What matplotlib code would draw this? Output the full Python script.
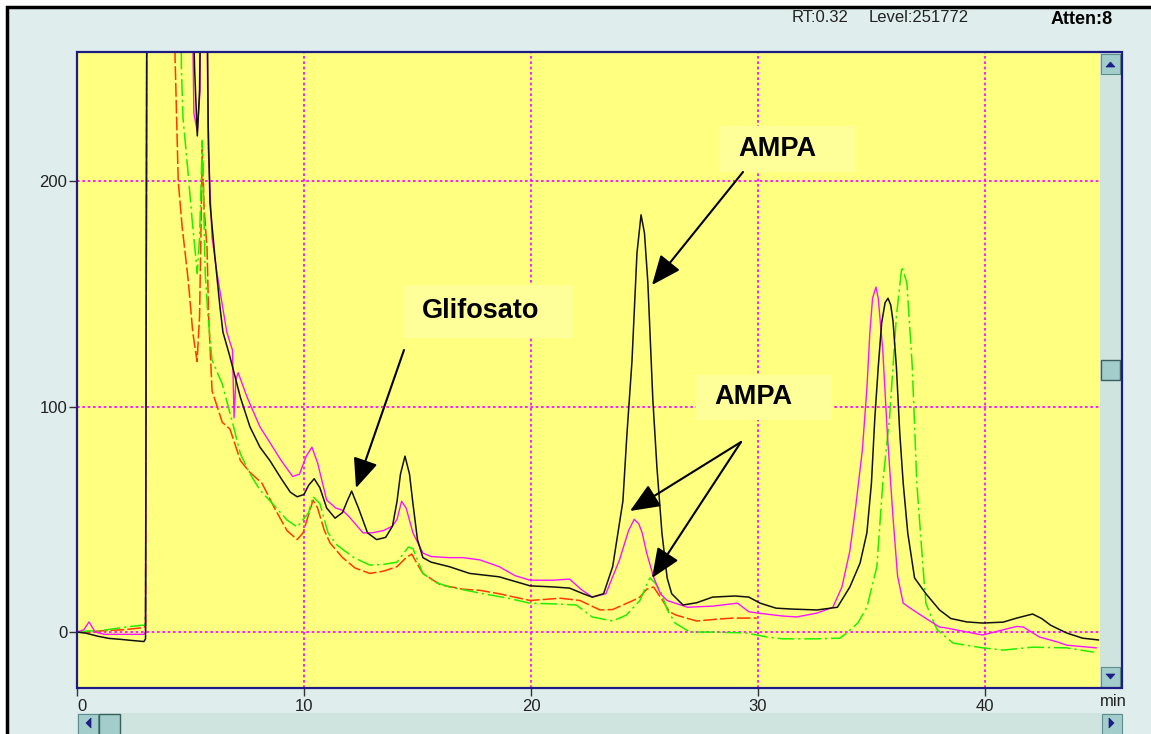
"""Chromatogram screenshot (glyphosate / AMPA) redrawn with matplotlib."""
import matplotlib
matplotlib.use("Agg")
import matplotlib.pyplot as plt
from matplotlib.patches import Rectangle, Polygon, FancyArrowPatch

plt.rcParams["font.family"] = ["Liberation Sans", "DejaVu Sans"]

# ---- data (time in min, response) ----
OFF = 300  # off-scale, clipped at the top of the window

black_t = [0, 0.4, 0.9, 1.4, 2.0, 2.5, 2.95, 3.02, 3.08, 5.05, 5.18, 5.3, 5.4, 5.46,
           5.72, 5.78, 5.86, 6.08, 6.3, 6.43, 6.74, 7.2, 7.62, 8.06, 8.5, 9.0, 9.4,
           9.7, 10.0, 10.2, 10.45, 10.7, 11.0, 11.37, 11.7, 11.9, 12.1, 12.4, 12.8,
           13.2, 13.6, 13.9, 14.1, 14.25, 14.45, 14.65, 14.8, 15.0, 15.24, 15.6, 16.4,
           17.3, 18.6, 19.96, 21.0, 21.7, 22.3, 22.7, 23.2, 23.6, 24.05, 24.23, 24.45,
           24.67, 24.85, 25.0, 25.15, 25.37, 25.55, 25.77, 26.0, 26.2, 26.7, 27.3,
           28.0, 29.0, 29.6, 30.1, 30.8, 31.5, 32.6, 33.5, 34.05, 34.5, 34.8, 35.0,
           35.15, 35.3, 35.45, 35.6, 35.73, 35.85, 35.95, 36.1, 36.25, 36.4, 36.6,
           36.9, 37.4, 38.0, 38.5, 39.2, 39.9, 40.8, 41.4, 42.1, 42.5, 42.9, 43.6,
           44.3, 45.0]
black_v = [0, -0.5, -1.8, -2.8, -3.3, -3.8, -4.2, -3, OFF, OFF, 250, 220, 240, OFF,
           OFF, 225, 190, 166, 144, 133, 122, 104, 91, 82, 76, 68, 62,
           60, 61, 65, 68, 64, 55, 50.5, 53, 58, 62.5, 55, 44,
           41, 42, 47, 58, 70, 78, 70, 57, 41, 33, 31, 29,
           26, 24.5, 20.5, 20, 19.5, 17, 15.5, 17, 29, 58, 88, 120,
           168, 185, 177, 155, 103, 73, 44, 24, 17, 12, 13,
           15.5, 16, 15.5, 12.8, 10.6, 10.2, 9.8, 11, 20, 30.6, 44, 66,
           95, 117.5, 137, 146, 148, 145, 138, 117.5, 88, 66, 44,
           24, 17, 9.8, 6, 4.5, 4, 4.4, 6.2, 8, 6, 3, -0.4,
           -2.7, -3.5]

magenta_t = [0, 0.3, 0.53, 0.8, 1.2, 2.0, 2.95, 3.02, 3.08, 5.05, 5.15, 5.3, 5.42,
             5.46, 5.7, 5.78, 5.95, 6.17, 6.6, 6.85, 6.92, 7.0, 7.1, 7.5, 8.06, 8.5,
             9.0, 9.5, 9.8, 10.1, 10.35, 10.6, 11.0, 11.4, 11.7, 12.0, 12.6, 13.0,
             13.5, 13.9, 14.1, 14.3, 14.5, 14.8, 15.24, 15.6, 16.4, 17.0, 17.75, 18.6,
             19.3, 19.96, 21.0, 21.7, 22.2, 22.7, 23.3, 23.9, 24.3, 24.55, 24.75,
             24.9, 25.1, 25.4, 25.7, 26.0, 26.9, 28.0, 29.1, 29.6, 30.0, 31.1, 31.7,
             32.6, 33.3, 33.7, 34.05, 34.3, 34.6, 34.8, 34.93, 35.05, 35.2, 35.3,
             35.5, 35.7, 35.95, 36.15, 36.4, 36.8, 37.3, 38.0, 38.2, 39.9, 40.8,
             41.4, 41.7, 42.4, 43.2, 43.6, 44.9]
magenta_v = [0, 1, 4.5, 0, -1, -1, -1, 0, OFF, OFF, 230, 222, 240,
             OFF, OFF, 215, 175, 159, 133, 125, 95, 112, 115, 104, 91, 84,
             76, 69, 70, 78, 82, 75, 58.5, 55, 54, 51, 44, 44,
             45, 47, 50, 58, 55, 44, 35, 33.5, 33, 33, 32, 29,
             25, 23, 23, 23.5, 19, 15.5, 17, 32, 45, 50, 48,
             44, 35, 24.4, 17, 14, 11, 11.5, 12.8, 9, 8.4, 7.1, 6.7,
             8.4, 11, 20, 36, 55, 80.7, 108, 132.6, 148, 153, 148,
             125, 88, 51, 25, 12.8, 10, 6.7, 2.2, 2, -1.3, 1,
             2.5, 2.2, -2.2, -4.4, -5.8, -7]

red_t = [0, 0.5, 1.0, 1.5, 2.0, 2.5, 2.95, 3.02, 3.08, 4.3, 4.32, 4.46, 4.63, 4.9,
         5.1, 5.29, 5.4, 5.52, 5.6, 5.73, 5.8, 5.95, 6.4, 6.74, 7.2, 7.6, 8.15, 8.7,
         9.25, 9.7, 9.96, 10.2, 10.4, 10.6, 10.9, 11.15, 11.7, 12.25, 12.9, 13.5,
         14.1, 14.5, 14.75, 15.0, 15.24, 16.0, 17.0, 17.75, 18.6, 19.96, 21.3,
         22.16, 23.04, 23.6, 24.05, 24.5, 24.8, 25.1, 25.4, 25.8, 26.1, 26.4, 27.3,
         28.3, 28.9, 29.95]
red_v = [0, 0, 0.5, 0.8, 1, 1.5, 2, 3, OFF, OFF, 255, 200, 180, 156,
         133, 120, 140, 214, 188, 170, 140, 107, 93, 90, 76, 71, 66, 55,
         45, 41, 44, 52, 58.5, 55, 45, 39.5, 33, 28.4, 26, 27,
         29, 33, 34.6, 30, 26, 21, 19, 18.5, 17, 14, 15,
         14, 9.8, 10, 12, 14, 15.5, 19, 20, 14, 9, 7.5, 4.9,
         5.8, 6.2, 6.2]

green_t = [0, 0.5, 1.0, 1.3, 2.0, 2.8, 2.98, 3.02, 3.08, 4.58, 4.6, 4.67, 4.9, 5.07,
           5.3, 5.4, 5.52, 5.65, 5.77, 5.95, 6.4, 6.9, 7.2, 7.6, 8.06, 8.7, 9.25,
           9.7, 10.2, 10.4, 10.7, 11.06, 11.45, 12.2, 12.9, 13.5, 14.1, 14.6, 14.8,
           15.24, 15.8, 16.4, 17.9, 19.0, 19.96, 21.0, 22.0, 22.7, 23.6, 24.2, 24.8,
           25.1, 25.24, 25.45, 25.7, 26.0, 26.35, 27.0, 28.0, 29.5, 30.4, 31.1, 32.6,
           33.6, 33.8, 34.4, 34.8, 35.24, 35.5, 35.8, 36.1, 36.34, 36.56, 36.8, 37.0,
           37.27, 37.4, 37.7, 37.9, 38.6, 39.9, 40.8, 42.1, 43.6, 44.8]
green_v = [0, 0.5, 0.5, 1, 2, 3, 3, 10, OFF, OFF, 250, 228, 203, 183,
           159, 175, 218, 159, 140, 120.6, 110, 91, 79, 70.5, 63, 56, 49.7,
           46.6, 52.8, 60, 57, 44, 38.6, 33, 29.7, 30, 31, 37.7, 37,
           26, 22, 20, 17, 15, 12.8, 12.5, 12, 6.7, 4.9, 7.5, 14,
           21, 24, 22, 18.6, 10, 4, 0, 0, -0.4, -2.2, -3, -3,
           -2.7, -1.3, 4, 11, 29, 66, 95.3, 140, 162, 155, 117.5, 66,
           29, 12.8, 5.3, 1, -4.9, -7, -8, -6.7, -7, -8.9]

x_ticks = [0, 10, 20, 30, 40]
y_ticks = [0, 100, 200]

# ---- layout (pixels of the 1151x734 screenshot, origin top-left) ----
W, H = 1151, 734
PLOT_L, PLOT_R, PLOT_T, PLOT_B = 77, 1100, 52, 688
FRAME_R = 1122

BG = "#dfeded"
TRACK = "#cfe3df"
BTN = "#a3cdca"
NAVY = "#1c1c84"


def fx(x):
    return x / W


def fy(y):
    return 1 - y / H


def rect(fig, x0, y0, x1, y1, **kw):
    r = Rectangle((fx(x0), fy(y1)), fx(x1) - fx(x0), fy(y0) - fy(y1),
                  transform=fig.transFigure, **kw)
    fig.add_artist(r)
    return r


def button(fig, x0, y0, x1, y1, tri):
    rect(fig, x0, y0, x1, y1, facecolor=BTN, edgecolor="#5f8f8c", lw=0.8, zorder=5)
    fig.add_artist(Polygon([(fx(a), fy(b)) for a, b in tri], closed=True,
                           transform=fig.transFigure, facecolor=NAVY,
                           edgecolor=NAVY, lw=0.5, zorder=6))


fig = plt.figure(figsize=(W / 100, H / 100), dpi=100, facecolor="white")
rect(fig, 7, 7, W + 10, H + 10, facecolor=BG, edgecolor="black", lw=2.5, zorder=-10)

ax = fig.add_axes([fx(PLOT_L), fy(PLOT_B), fx(PLOT_R) - fx(PLOT_L), fy(PLOT_T) - fy(PLOT_B)])
ax.set_facecolor("#ffff80")
ax.set_xlim(0, 45.07)
ax.set_ylim(-24.8, 257.2)

for t in x_ticks[1:]:
    ax.axvline(t, color="#ff00ff", lw=1.2, ls=(0, (1.6, 1.6)), zorder=1)
for v in y_ticks:
    ax.axhline(v, color="#ff00ff", lw=1.2, ls=(0, (1.6, 1.6)), zorder=1)

ax.plot(red_t, red_v, color="#ff3a00", lw=1.1, dashes=(9, 2), zorder=2)
ax.plot(green_t, green_v, color="#22ee00", lw=1.1, dashes=(11, 2.5, 1.5, 2.5), zorder=2)
ax.plot(magenta_t, magenta_v, color="#ff10ff", lw=1.0, zorder=3)
ax.plot(black_t, black_v, color="#111111", lw=1.1, zorder=4)

ax.set_xticks(x_ticks)
ax.set_xticklabels([str(t) for t in x_ticks])
ax.set_yticks(y_ticks)
ax.set_yticklabels([str(v) for v in y_ticks])
ax.tick_params(axis="both", length=6, width=1, color="#333333", labelsize=12,
               labelcolor="#222222")
ax.tick_params(axis="y", pad=1)
ax.tick_params(axis="x", pad=2)
ax.get_xticklabels()[0].set_horizontalalignment("left")
for s in ax.spines.values():
    s.set_visible(False)

# vertical scrollbar inside the frame
rect(fig, PLOT_R, PLOT_T, FRAME_R, PLOT_B, facecolor=TRACK, edgecolor="none", zorder=4)
button(fig, 1101, 54, 1120, 74, [(1106, 67), (1115, 67), (1110.5, 62)])
rect(fig, 1101, 360, 1120, 380, facecolor=BTN, edgecolor="#3a5f5d", lw=1, zorder=5)
button(fig, 1101, 667, 1120, 687, [(1106, 674), (1115, 674), (1110.5, 679)])
rect(fig, PLOT_L, PLOT_T, FRAME_R, PLOT_B, facecolor="none", edgecolor=NAVY, lw=1.6, zorder=7)

# horizontal scrollbar at the bottom
rect(fig, PLOT_L, 713, FRAME_R, H + 2, facecolor=TRACK, edgecolor="none", zorder=4)
button(fig, 78, 714, 98, H + 2, [(91, 718), (91, 728), (86, 723)])
rect(fig, 99, 714, 120, H + 2, facecolor=BTN, edgecolor="#3a5f5d", lw=1, zorder=5)
button(fig, 1102, 714, 1122, H + 2, [(1109, 718), (1109, 728), (1114, 723)])

# header texts
fig.text(fx(792), fy(17), "RT:0.32", fontsize=12, color="#222222", va="center")
fig.text(fx(869), fy(17), "Level:251772", fontsize=12, color="#222222", va="center")
fig.text(fx(1051), fy(19), "Atten:8", fontsize=13, fontweight="bold", color="black", va="center")
fig.text(fx(1113), fy(702), "min", fontsize=12, color="#222222", ha="center", va="center")

# peak labels
labels = [("AMPA", 719, 126, 855, 172, 738),
          ("Glifosato", 403, 285, 574, 338, 422),
          ("AMPA", 696, 375, 832, 420, 714)]
for txt, x0, y0, x1, y1, tx in labels:
    rect(fig, x0, y0, x1, y1, facecolor="#ffff99", edgecolor="none", zorder=8)
    fig.text(fx(tx), fy((y0 + y1) / 2), txt, fontsize=19.5, fontweight="bold",
             color="black", va="center", ha="left", zorder=9)

arrows = [((743, 172), (652, 285)),
          ((404, 350), (356, 488)),
          ((741, 442), (630, 511)),
          ((741, 442), (652, 578))]
for (xa, ya), (xb, yb) in arrows:
    fig.add_artist(FancyArrowPatch((fx(xa), fy(ya)), (fx(xb), fy(yb)),
                                   transform=fig.transFigure,
                                   arrowstyle="-|>,head_length=1.3,head_width=0.55",
                                   mutation_scale=14, lw=1.5, color="black",
                                   shrinkA=0, shrinkB=0, zorder=10))

fig.savefig("out.png", dpi=100)
